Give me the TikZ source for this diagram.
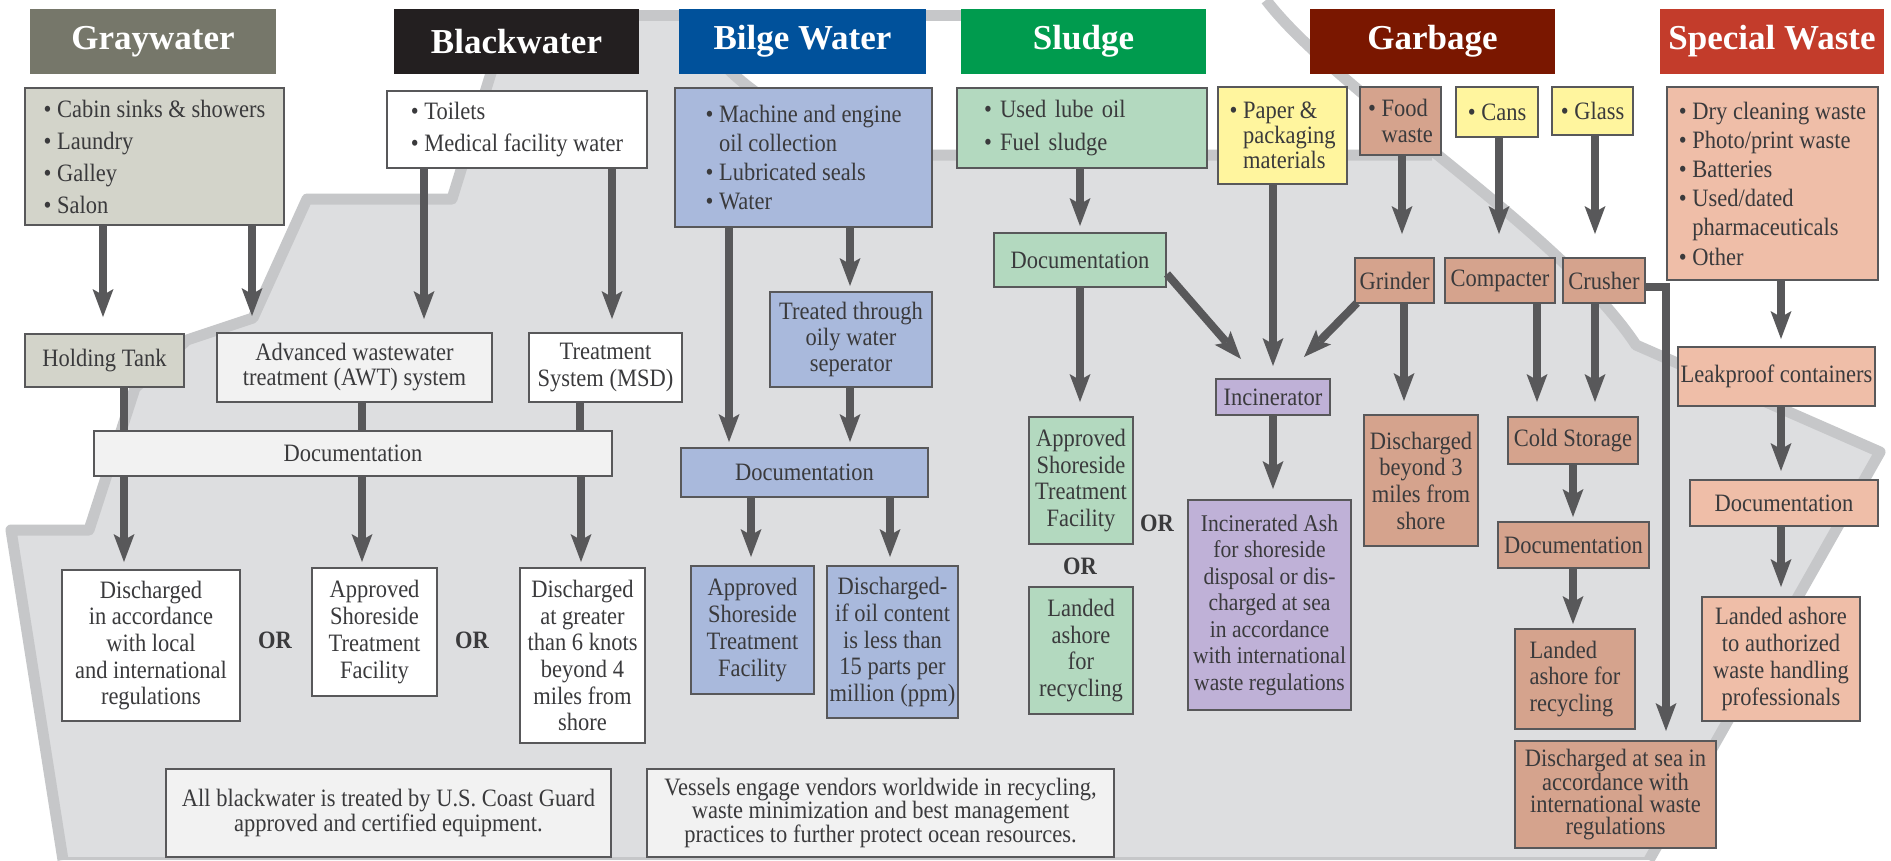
\documentclass[tikz,border=0pt]{standalone}
\usepackage{fontspec}
\setmainfont{Liberation Serif}
\newfontfamily\hdrfont{Liberation Serif}
\newfontfamily\bodyfont{Liberation Serif}[FakeStretch=0.9]
\usetikzlibrary{arrows.meta,calc}

\definecolor{shipc}{HTML}{DDDEE0}
\definecolor{bandc}{HTML}{C6C7C9}
\definecolor{linec}{HTML}{58585A}
\definecolor{txtc}{HTML}{3A3A3C}
\definecolor{grayhd}{HTML}{76776A}
\definecolor{blackhd}{HTML}{231F20}
\definecolor{bilgehd}{HTML}{00519B}
\definecolor{sludgehd}{HTML}{009B4E}
\definecolor{garbhd}{HTML}{7A1700}
\definecolor{spechd}{HTML}{C33C2B}
\definecolor{grayfill}{HTML}{D3D4CA}
\definecolor{lightfill}{HTML}{F2F2F2}
\definecolor{bilgefill}{HTML}{A9B9DC}
\definecolor{sludgefill}{HTML}{B3D9BF}
\definecolor{yellfill}{HTML}{FFF59E}
\definecolor{garbfill}{HTML}{D5A38D}
\definecolor{specfill}{HTML}{EFBEA8}
\definecolor{purpfill}{HTML}{BFB1D7}

\newcommand{\ind}{\phantom{•\ }}

\begin{document}
\begin{tikzpicture}[x=1pt,y=-1pt,
  hdr/.style={fill=#1, text=white, font=\hdrfont\bfseries\fontsize{35}{40}\selectfont, inner sep=0pt, minimum height=65pt},
  box/.style={draw=linec, line width=2pt, fill=#1, text=txtc, align=center, inner xsep=1pt, inner ysep=1pt, font=\bodyfont\fontsize{25}{26.7}\selectfont},
  lead/.style={font=\bodyfont\fontsize{25}{#1}\selectfont},
  wh/.style 2 args={minimum width=#1pt, minimum height=#2pt},
  arr/.style={draw=linec, line width=8pt, -{Stealth[length=28pt,width=21pt,inset=6pt,line width=0pt]}, shorten >=#1},
  arr/.default=6pt,
  conn/.style={draw=linec, line width=8pt},
  band/.style={draw=bandc, line width=11pt, line join=round},
  ortxt/.style={text=txtc, font=\bodyfont\bfseries\fontsize{25}{26.7}\selectfont, inner sep=0pt},
]
\useasboundingbox (0,0) rectangle (1891,860);
\fill[white] (0,0) rectangle (1891,860);

% ship silhouette
\fill[shipc] (509,15) -- (1260,15) -- (1266,0) .. controls (1336,92) and (1560,230) .. (1636,345)
  -- (1880,452) -- (1649,860) -- (63,860) -- (11,530) -- (89,530) -- (135,388) -- (187,340)
  -- (253,318) -- (307,199) -- (452,199) -- cycle;
\fill[white] (695,15) .. controls (705,60) and (760,110) .. (880,155) -- (1432,155) -- (1432,0) -- (695,0) -- cycle;
\draw[band] (509,15) -- (1190,15);
\draw[band] (1266,0) .. controls (1336,92) and (1560,230) .. (1636,345) -- (1880,452) -- (1649,860);
\draw[band] (63,860) -- (11,530) -- (89,530) -- (135,388) -- (187,340) -- (253,318) -- (307,199) -- (452,199) -- (509,15);
\draw[band] (695,15) .. controls (705,60) and (760,110) .. (880,155) -- (1432,155);
\draw[draw=bandc, line width=3pt] (63,858.5) -- (1650,858.5);

% headers
\node[hdr=grayhd, minimum width=246pt] (hgray) at (153,41.5) {Graywater};
\node[hdr=blackhd, minimum width=245pt] (hblack) at (516.5,41.5) {Blackwater};
\node[hdr=bilgehd, minimum width=247pt] (hbilge) at (802.5,41.5) {Bilge Water};
\node[hdr=sludgehd, minimum width=245pt] (hsludge) at (1083.5,41.5) {Sludge};
\node[hdr=garbhd, minimum width=245pt] (hgarb) at (1432.5,41.5) {Garbage};
\node[hdr=spechd, minimum width=224pt] (hspec) at (1772,41.5) {Special Waste};

% graywater / blackwater
\node[box=grayfill, wh={259}{137}, align=left, lead=32] (gsrc) at (154.5,156.5)
  {• Cabin sinks \& showers\\• Laundry\\• Galley\\• Salon};
\node[box=white, wh={260}{77}, align=left, lead=31.5] (bsrc) at (517,129.5)
  {• Toilets\\• Medical facility water};
\node[box=grayfill, wh={159}{53}] (hold) at (104.5,360.5) {Holding Tank};
\node[box=lightfill, wh={275}{69}, lead=25] (awt) at (354.5,367.5) {Advanced wastewater\\treatment (AWT) system};
\node[box=white, wh={153}{69}] (msd) at (605.5,367.5) {Treatment\\System (MSD)};
\node[box=lightfill, wh={518}{45}] (gdoc) at (353,453.5) {Documentation};
\node[box=white, wh={178}{151}] (gout1) at (151,645.5) {Discharged\\in accordance\\with local\\and international\\regulations};
\node[box=white, wh={125}{128}] (gout2) at (374.5,632) {Approved\\Shoreside\\Treatment\\Facility};
\node[box=white, wh={125}{175}] (gout3) at (582.5,655.5) {Discharged\\at greater\\than 6 knots\\beyond 4\\miles from\\shore};
\node[ortxt] (or1) at (275,640) {OR};
\node[ortxt] (or2) at (472,640) {OR};
\node[box=lightfill, wh={445}{88}, lead=25] (note1) at (388.5,813)
  {All blackwater is treated by U.S. Coast Guard\\approved and certified equipment.};
\node[box=lightfill, wh={467}{88}, lead=22.5] (note2) at (880.5,813)
  {Vessels engage vendors worldwide in recycling,\\waste minimization and best management\\practices to further protect ocean resources.};

% bilge water
\node[box=bilgefill, wh={257}{139}, align=left, lead=28.7] (bilsrc) at (803.5,157.5)
  {• Machine and engine\\\ind oil collection\\• Lubricated seals\\• Water};
\node[box=bilgefill, wh={162}{95}, lead=26] (treat) at (851,339.5) {Treated through\\oily water\\seperator};
\node[box=bilgefill, wh={247}{49}] (bdoc) at (804.5,472.5) {Documentation};
\node[box=bilgefill, wh={123}{128}] (bout1) at (752.5,630) {Approved\\Shoreside\\Treatment\\Facility};
\node[box=bilgefill, wh={131}{152}] (bout2) at (892.5,642) {Discharged-\\if oil content\\is less than\\15 parts per\\million (ppm)};

% sludge
\node[box=sludgefill, wh={250}{80}, align=left, text width=196pt, inner xsep=27pt, lead=33] (slsrc) at (1082,128)
  {• Used lube oil\\• Fuel sludge};
\node[box=sludgefill, wh={172}{54}] (sdoc) at (1080,260) {Documentation};
\node[box=sludgefill, wh={104}{127}] (sout1) at (1081,480.5) {Approved\\Shoreside\\Treatment\\Facility};
\node[box=sludgefill, wh={104}{127}] (sout2) at (1081,650.5) {Landed\\ashore\\for\\recycling};
\node[ortxt] (or3) at (1157,523) {OR};
\node[ortxt] (or4) at (1080,566) {OR};

% paper / incinerator
\node[box=yellfill, wh={129}{97}, align=left, lead=25] (paper) at (1282.5,135.5)
  {• Paper \&\\\ind packaging\\\ind materials};
\node[box=purpfill, wh={114}{36}] (incin) at (1273,397) {Incinerator};
\node[box=purpfill, wh={163}{210}, font=\bodyfont\fontsize{24}{26.5}\selectfont] (iash) at (1269.5,605)
  {Incinerated Ash\\for shoreside\\disposal or dis-\\charged at sea\\in accordance\\with international\\waste regulations};

% garbage
\node[box=garbfill, wh={81}{68}, align=left, lead=26.7] (food) at (1400.5,121) {• Food\\\ind waste};
\node[box=yellfill, wh={82}{50}] (cans) at (1497,112) {• Cans};
\node[box=yellfill, wh={81}{48}] (glass) at (1592.5,111) {• Glass};
\node[box=garbfill, wh={79}{45}] (grind) at (1394.5,280.5) {Grinder};
\node[box=garbfill, wh={110}{45}] (comp) at (1500,280.5) {Compacter};
\node[box=garbfill, wh={82}{45}] (crush) at (1604,280.5) {Crusher};
\node[box=garbfill, wh={114}{131}] (dis3) at (1421,480.5) {Discharged\\beyond 3\\miles from\\shore};
\node[box=garbfill, wh={130}{47}] (cold) at (1573,440.5) {Cold Storage};
\node[box=garbfill, wh={151}{46}] (gbdoc) at (1573.5,545) {Documentation};
\node[box=garbfill, wh={120}{100}, align=left] (landg) at (1575,679) {Landed\\ashore for\\recycling};
\node[box=garbfill, wh={201}{107}, lead=22] (dsea) at (1615.5,794.5)
  {Discharged at sea in\\accordance with\\international waste\\regulations};

% special waste
\node[box=specfill, wh={211}{193}, align=left, lead=29.2] (spsrc) at (1772.5,183.5)
  {• Dry cleaning waste\\• Photo/print waste\\• Batteries\\• Used/dated\\\ind pharmaceuticals\\• Other};
\node[box=specfill, wh={197}{59}] (leak) at (1776.5,376.5) {Leakproof containers};
\node[box=specfill, wh={188}{46}] (spdoc) at (1784,503) {Documentation};
\node[box=specfill, wh={158}{124}] (land2) at (1781,659) {Landed ashore\\to authorized\\waste handling\\professionals};

% x positions of connectors
\foreach \xx in {103,124,252,362,424,580,581,612,729,751,850,890,1080,1273,1402,1404,1499,1537,1573,1595,1666,1781}
  {\coordinate (c\xx) at (\xx,0);}

% graywater / blackwater connectors
\draw[arr=16pt] (gsrc.south -| c103) -- (hold.north -| c103);
\draw[arr=16pt] (gsrc.south -| c252) -- (awt.north -| c252);
\draw[arr=13pt] (bsrc.south -| c424) -- (awt.north -| c424);
\draw[arr=13pt] (bsrc.south -| c612) -- (msd.north -| c612);
\draw[conn] (hold.south -| c124) -- (gdoc.north -| c124);
\draw[conn] (awt.south -| c362) -- (gdoc.north -| c362);
\draw[conn] (msd.south -| c580) -- (gdoc.north -| c580);
\draw[arr=7pt] (gdoc.south -| c124) -- (gout1.north -| c124);
\draw[arr=5pt] (gdoc.south -| c362) -- (gout2.north -| c362);
\draw[arr=5pt] (gdoc.south -| c581) -- (gout3.north -| c581);
% bilge
\draw[arr=5pt] (bilsrc.south -| c729) -- (bdoc.north -| c729);
\draw[arr=5pt] (bilsrc.south -| c850) -- (treat.north -| c850);
\draw[arr=5pt] (treat.south -| c850) -- (bdoc.north -| c850);
\draw[arr=8pt] (bdoc.south -| c751) -- (bout1.north -| c751);
\draw[arr=8pt] (bdoc.south -| c890) -- (bout2.north -| c890);
% sludge / incinerator
\draw[arr=6pt] (slsrc.south -| c1080) -- (sdoc.north -| c1080);
\draw[arr=14pt] (sdoc.south -| c1080) -- (sout1.north -| c1080);
\draw[arr=0pt] ($(sdoc.south east)+(0,-14)$) -- ($(incin.north west)+(26,-19)$);
\draw[arr=12pt] (paper.south -| c1273) -- (incin.north -| c1273);
\draw[arr=0pt] ($(grind.south west)+(3,-1)$) -- ($(incin.north east)+(-27,-21)$);
\draw[arr=10pt] (incin.south -| c1273) -- (iash.north -| c1273);
% garbage
\draw[arr=23pt] (food.south -| c1402) -- (grind.north -| c1402);
\draw[arr=23pt] (cans.south -| c1499) -- (comp.north -| c1499);
\draw[arr=23pt] (glass.south -| c1595) -- (crush.north -| c1595);
\draw[arr=13pt] (grind.south -| c1404) -- (dis3.north -| c1404);
\draw[arr=14pt] (comp.south -| c1537) -- (cold.north -| c1537);
\draw[arr=14pt] (crush.south -| c1595) -- (cold.north -| c1595);
\draw[arr=4pt] (cold.south -| c1573) -- (gbdoc.north -| c1573);
\draw[arr=4pt] (gbdoc.south -| c1573) -- (landg.north -| c1573);
\draw[arr=9pt] ($(crush.east)+(0,6)$) -| (dsea.north -| c1666);
% special waste
\draw[arr=7pt] (spsrc.south -| c1781) -- (leak.north -| c1781);
\draw[arr=8pt] (leak.south -| c1781) -- (spdoc.north -| c1781);
\draw[arr=9pt] (spdoc.south -| c1781) -- (land2.north -| c1781);
\end{tikzpicture}
\end{document}
